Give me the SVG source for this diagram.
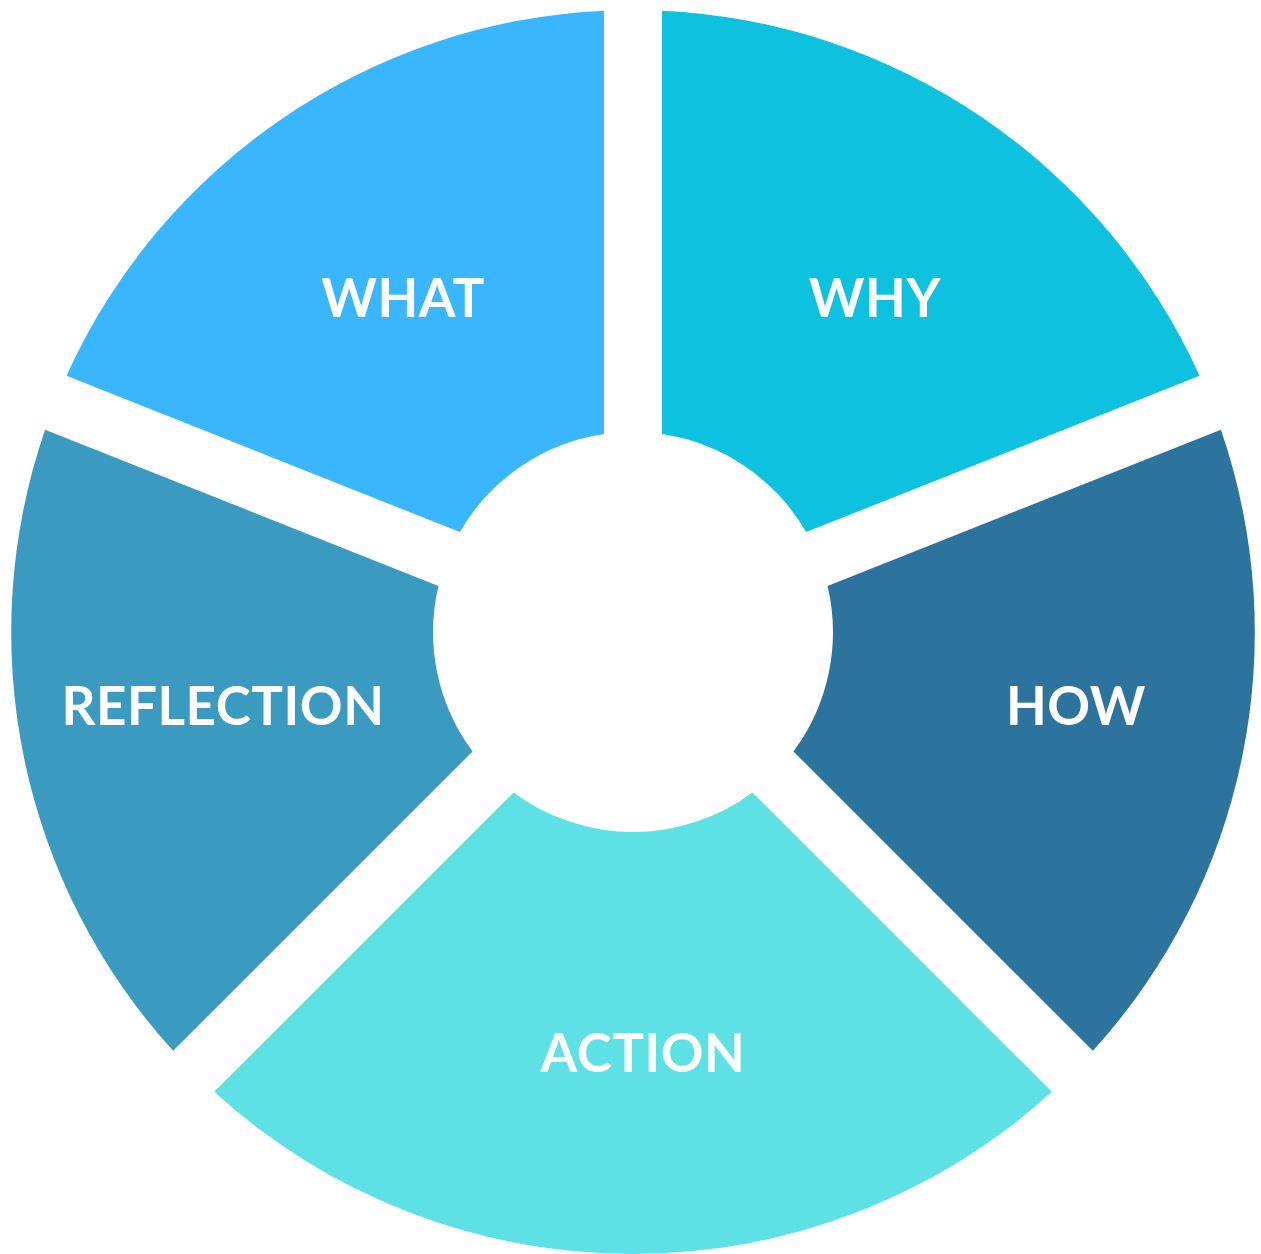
<svg xmlns="http://www.w3.org/2000/svg" width="1261" height="1254" viewBox="0 0 1261 1254">
  <style>
    .lbl { font-family: "Lato", "Liberation Sans", sans-serif; font-weight: 700; font-size: 53px; fill: #ffffff; text-anchor: middle; letter-spacing: 0.5px; }
  </style>
  <rect width="1261" height="1254" fill="#ffffff"/>
  <g id="what">
    <path d="M 604,10.68 A 622 622 0 0 0 66.49,375.79 L 459.86,532.04 A 200 200 0 0 1 604,434.11 Z" fill="#3AB6FE"/>
    <text class="lbl" x="403" y="317">WHAT</text>
  </g>
  <g id="why">
    <path d="M 1199.51,375.79 A 622 622 0 0 0 662,10.68 L 662,434.11 A 200 200 0 0 1 806.14,532.04 Z" fill="#0EC1DF"/>
    <text class="lbl" x="875" y="317">WHY</text>
  </g>
  <g id="reflection">
    <path d="M 45.09,429.67 A 622 622 0 0 0 173.15,1050.83 L 472.56,751.42 A 200 200 0 0 1 438.46,585.92 Z" fill="#3B9AC0"/>
    <text class="lbl" x="223" y="725">REFLECTION</text>
  </g>
  <g id="how">
    <path d="M 1092.85,1050.83 A 622 622 0 0 0 1220.91,429.67 L 827.54,585.92 A 200 200 0 0 1 793.44,751.42 Z" fill="#2C749E"/>
    <text class="lbl" x="1076" y="725">HOW</text>
  </g>
  <g id="action">
    <path d="M 214.17,1091.85 A 622 622 0 0 0 1051.83,1091.85 L 752.42,792.44 A 200 200 0 0 1 513.58,792.44 Z" fill="#5DE1E5"/>
    <text class="lbl" x="643" y="1072">ACTION</text>
  </g>
  <g id="connectors"/>
</svg>
